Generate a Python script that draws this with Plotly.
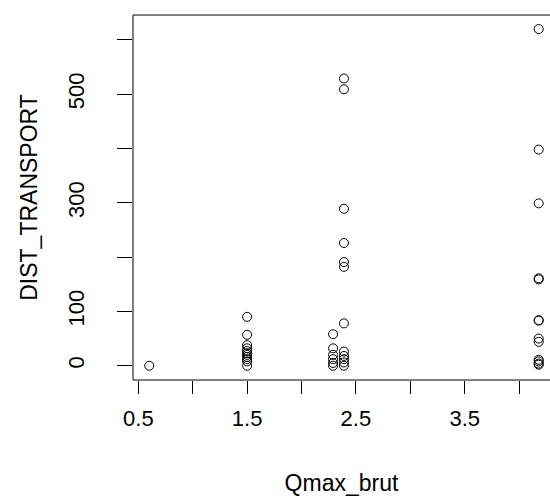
import plotly.graph_objects as go

# Data (Qmax_brut vs DIST_TRANSPORT)
x_group_a = [0.6]
y_group_a = [0]

x_group_b = [1.5] * 11
y_group_b = [90, 57, 38, 32, 27, 23, 20, 16, 12, 8, 0]

x_group_c = [2.29] * 6
y_group_c = [58, 32, 20, 12, 5, 0]

x_group_d = [2.39] * 12
y_group_d = [529, 509, 289, 226, 191, 182, 78, 26, 18, 12, 6, 0]

x_group_e = [4.18] * 13
y_group_e = [620, 398, 299, 161, 159, 84, 83, 50, 44, 11, 8, 4, 2]

x_tick_vals = [0.5, 1.0, 1.5, 2.0, 2.5, 3.0, 3.5, 4.0]
x_tick_text = ["0.5", "", "1.5", "", "2.5", "", "3.5", ""]
y_tick_vals = [0, 100, 200, 300, 400, 500, 600]
y_tick_text = ["0", "100", "", "300", "", "500", ""]

x_all = x_group_a + x_group_b + x_group_c + x_group_d + x_group_e
y_all = y_group_a + y_group_b + y_group_c + y_group_d + y_group_e

FONT = "Liberation Sans, Arial, sans-serif"

fig = go.Figure()
fig.add_trace(go.Scatter(
    x=x_all, y=y_all, mode="markers",
    marker=dict(symbol="circle-open", size=9, color="black",
                line=dict(color="black", width=1)),
    showlegend=False, hoverinfo="x+y",
))

fig.update_layout(
    width=550, height=496,
    margin=dict(l=133, r=0, t=15, b=116, autoexpand=False),
    paper_bgcolor="white", plot_bgcolor="white",
    font=dict(family=FONT, size=22, color="black"),
    shapes=[dict(type="rect", xref="paper", yref="paper",
                 x0=0, x1=1.1, y0=0, y1=1,
                 line=dict(color="black", width=1), layer="above")],
)
fig.update_xaxes(
    range=[0.451, 4.284], showgrid=False, zeroline=False, showline=False,
    ticks="outside", ticklen=13, tickwidth=1, tickcolor="black",
    tickvals=x_tick_vals, ticktext=x_tick_text,
    tickfont=dict(size=22, family=FONT, color="black"),
    ticklabelstandoff=6,
    title=dict(text="Qmax_brut", font=dict(size=23, family=FONT, color="black"),
               standoff=48),
    automargin=False,
)
fig.update_yaxes(
    range=[-26.3, 645.9], showgrid=False, zeroline=False, showline=False,
    ticks="outside", ticklen=15, tickwidth=1, tickcolor="black",
    tickvals=y_tick_vals, ticktext=y_tick_text, tickangle=-90,
    tickfont=dict(size=22, family=FONT, color="black"),
    ticklabelstandoff=24,
    title=dict(text="DIST_TRANSPORT", font=dict(size=23, family=FONT, color="black"),
               standoff=20),
    automargin=False,
)

fig.write_html("out.html")
